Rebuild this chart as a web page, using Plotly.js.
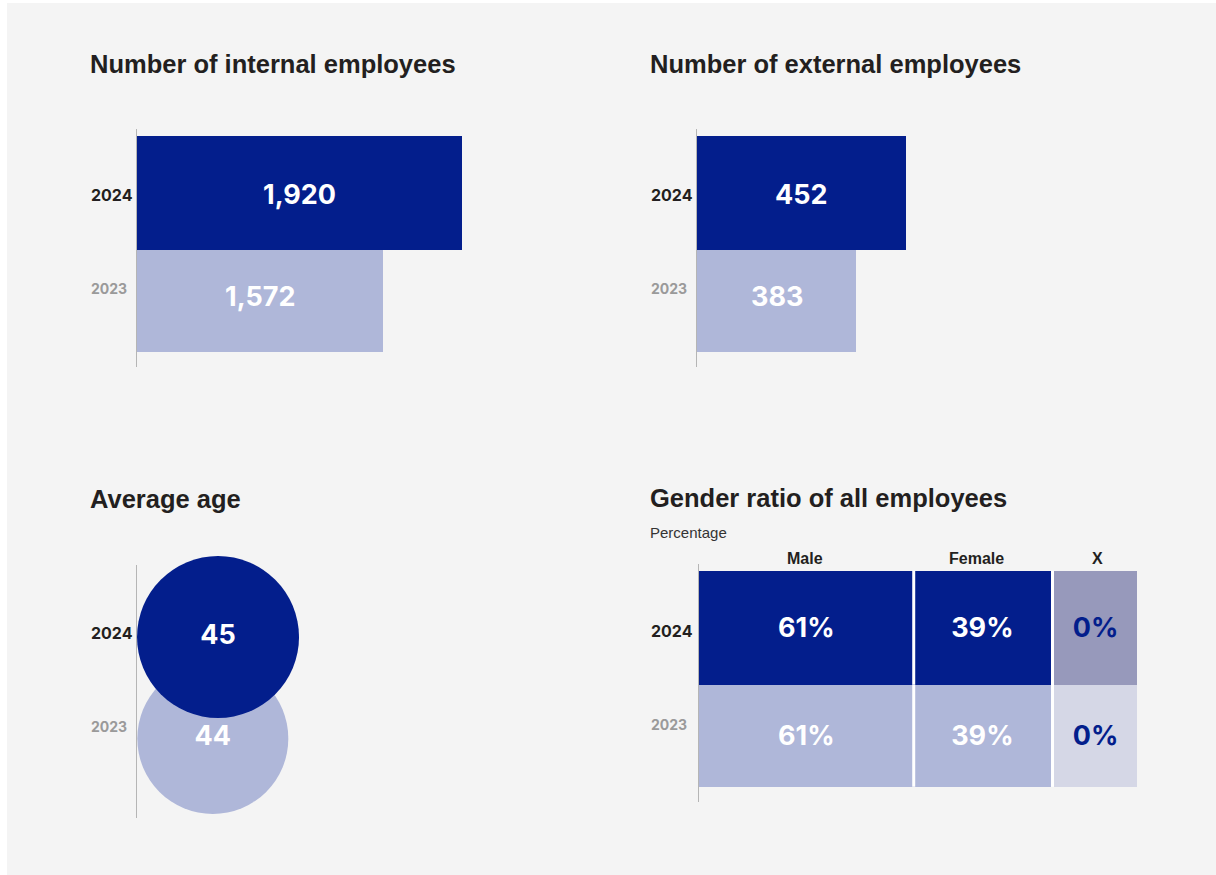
<!DOCTYPE html>
<html>
<head>
<meta charset="utf-8">
<script src="https://cdn.plot.ly/plotly-3.0.1.min.js"></script>
<style>
  html, body { margin: 0; padding: 0; background: #ffffff; }
  #chart { width: 1216px; height: 875px; }
</style>
</head>
<body>
<div id="chart"></div>
<script>
// ---------------- DATA ----------------
const years = ['2023', '2024'];
const internalEmployees = [1572, 1920];
const externalEmployees = [383, 452];
const averageAge = [44, 45];
const genderColumns = ['Male', 'Female', 'X'];
const malePct = [61, 61];
const femalePct = [39, 39];
const xPct = [0, 0];

// ---------------- STYLE ----------------
const W = 1216, H = 875;
const PX = p => p / W;            // pixel -> paper x
const PY = p => 1 - p / H;        // pixel -> paper y
const DARK = '#031e8c';
const LIGHT = '#afb7d9';
const yearColors = [LIGHT, DARK];
const xColColors = ['#d5d7e6', '#9799bb'];
const rowWidths = [0.944, 1.056];      // bar thickness per year (category units)
const circleDiam = [151, 162];         // circle diameters in px
const AXIS_LINE = '#b5b5b5';
const TITLE_FONT = { family: 'Liberation Sans, Arial, sans-serif', size: 25.5, color: '#231f20', weight: 700 };
const NUM_FONT = 'Inter, Liberation Sans, sans-serif';
const valueFont = { family: NUM_FONT, size: 27, color: '#ffffff', weight: 700 };
const valueShift = [5, -1.5];          // vertical nudge of value labels per year (px)

// axis ranges (visual cropping as in the reference)
const r1 = [493.8, 2468.4];
const r2 = [162.3, 786.9];
const r3 = [29.42, 67.88];
const yBarRange = [-0.608, 1.593];

const fmt = v => v.toLocaleString('en-US');
const cellSpan = years.map(() => 1);

const traces = [
  // internal employees
  { type: 'bar', orientation: 'h', x: internalEmployees, y: years, width: rowWidths,
    marker: { color: yearColors, line: { width: 0 } }, xaxis: 'x', yaxis: 'y', hoverinfo: 'skip' },
  // external employees
  { type: 'bar', orientation: 'h', x: externalEmployees, y: years, width: rowWidths,
    marker: { color: yearColors, line: { width: 0 } }, xaxis: 'x2', yaxis: 'y2', hoverinfo: 'skip' },
  // average age
  { type: 'scatter', mode: 'markers+text', x: averageAge, y: years,
    marker: { size: circleDiam, color: yearColors, opacity: 1, line: { width: 0 } },
    text: averageAge.map(String), textposition: 'middle center', textfont: valueFont,
    xaxis: 'x3', yaxis: 'y3', hoverinfo: 'skip', cliponaxis: false },
  // gender ratio
  { type: 'bar', orientation: 'h', name: genderColumns[0], x: malePct, y: years, width: rowWidths,
    marker: { color: yearColors, line: { width: 0 } }, texttemplate: '%{x}%',
    textposition: 'inside', insidetextanchor: 'middle', textangle: 0, constraintext: 'none',
    insidetextfont: valueFont, xaxis: 'x4', yaxis: 'y4', hoverinfo: 'skip' },
  { type: 'bar', orientation: 'h', name: genderColumns[1], x: femalePct, y: years, width: rowWidths,
    marker: { color: yearColors, line: { width: 0 } }, texttemplate: '%{x}%',
    textposition: 'inside', insidetextanchor: 'middle', textangle: 0, constraintext: 'none',
    insidetextfont: valueFont, xaxis: 'x4', yaxis: 'y4', hoverinfo: 'skip' },
  { type: 'bar', orientation: 'h', name: genderColumns[2], x: cellSpan, y: years, width: rowWidths,
    marker: { color: xColColors, line: { width: 0 } }, text: xPct.map(v => v + '%'), texttemplate: '%{text}',
    textposition: 'inside', insidetextanchor: 'middle', textangle: 0, constraintext: 'none',
    insidetextfont: Object.assign({}, valueFont, { color: DARK }), xaxis: 'x5', yaxis: 'y4', hoverinfo: 'skip' }
];

const hiddenX = (domain, range, anchor) => ({
  domain: domain, range: range, visible: true, fixedrange: true, anchor: anchor,
  showgrid: false, zeroline: false, showline: false, showticklabels: false, ticks: ''
});
const catY = (domain, range, anchor) => ({
  domain: domain, range: range, type: 'category', categoryarray: years, categoryorder: 'array',
  showticklabels: false, ticks: '', showgrid: false, zeroline: false, fixedrange: true,
  showline: true, linecolor: AXIS_LINE, linewidth: 1, anchor: anchor
});

const annotations = [];
function addText(text, xpx, ypx, font, xanchor) {
  annotations.push({ text: text, xref: 'paper', yref: 'paper', x: PX(xpx), y: PY(ypx),
    xanchor: xanchor || 'left', yanchor: 'middle', showarrow: false, font: font });
}
// value labels of the employee bars, centred on the visible part of each bar
// (y given as category index, since '2023' would be read as a number)
function addValueLabels(values, range, xref, yref) {
  values.forEach((v, i) => {
    annotations.push({ text: fmt(v), xref: xref, yref: yref, x: (range[0] + v) / 2, y: i,
      yshift: valueShift[i], xanchor: 'center', yanchor: 'middle', showarrow: false, font: valueFont });
  });
}
addValueLabels(internalEmployees, r1, 'x', 'y');
addValueLabels(externalEmployees, r2, 'x2', 'y2');

// titles
addText('Number of internal employees', 88, 64, TITLE_FONT);
addText('Number of external employees', 648, 64, TITLE_FONT);
addText('Average age', 88, 499, TITLE_FONT);
addText('Gender ratio of all employees', 648, 498, TITLE_FONT);
addText('Percentage', 648, 532, { family: 'Liberation Sans, Arial, sans-serif', size: 15, color: '#333333' });
// year labels
const y24Font = { family: NUM_FONT, size: 16, color: '#231f20', weight: 700 };
const y23Font = { family: NUM_FONT, size: 14, color: '#9a9a9a', weight: 700 };
const yearLabelPos = [
  { x: 88.5, y24: 195.3, y23: 288.7 },
  { x: 649, y24: 195.3, y23: 288.7 },
  { x: 88.5, y24: 633, y23: 726 },
  { x: 649, y24: 630.7, y23: 724 }
];
yearLabelPos.forEach(p => {
  addText(years[1], p.x, p.y24, y24Font);
  addText(years[0], p.x, p.y23, y23Font);
});
// column headers
const headerFont = { family: 'Liberation Sans, Arial, sans-serif', size: 16, color: '#231f20', weight: 700 };
[805, 976, 1097].forEach((xp, i) => addText(genderColumns[i], xp, 558, headerFont, 'center'));

const shapes = [
  { type: 'rect', xref: 'paper', yref: 'paper', x0: PX(7), x1: 1, y0: 0, y1: PY(3),
    fillcolor: '#f4f4f4', line: { width: 0 }, layer: 'below' }
];
// white separators between gender cells
years.forEach((yr, i) => {
  shapes.push({ type: 'line', xref: 'x4', yref: 'y4', x0: malePct[i], x1: malePct[i],
    y0: i - rowWidths[i] / 2, y1: i + rowWidths[i] / 2, line: { color: '#ffffff', width: 3 } });
});
shapes.push({ type: 'rect', xref: 'paper', yref: 'y4', x0: PX(1051), x1: PX(1054),
  y0: -rowWidths[0] / 2, y1: 1 + rowWidths[1] / 2, fillcolor: '#ffffff', line: { width: 0 } });

const layout = {
  width: W, height: H, autosize: false,
  margin: { l: 0, r: 0, t: 0, b: 0, pad: 0 },
  paper_bgcolor: '#ffffff', plot_bgcolor: 'rgba(0,0,0,0)',
  showlegend: false, barmode: 'stack', hovermode: false,
  xaxis: hiddenX([PX(137), PX(587)], r1, 'y'),
  yaxis: catY([PY(366.7), PY(129)], yBarRange, 'x'),
  xaxis2: hiddenX([PX(697), PX(1147)], r2, 'y2'),
  yaxis2: catY([PY(366.7), PY(129)], yBarRange, 'x2'),
  xaxis3: hiddenX([PX(137), PX(337)], r3, 'y3'),
  yaxis3: catY([PY(818), PY(565)], [-0.783, 1.709], 'x3'),
  xaxis4: hiddenX([PX(699), PX(1051)], [0, 100], 'y4'),
  xaxis5: hiddenX([PX(1054), PX(1137)], [0, 1], 'y4'),
  yaxis4: catY([PY(801.7), PY(564)], [-0.611, 1.590], 'x4'),
  annotations: annotations,
  shapes: shapes
};

Plotly.newPlot('chart', traces, layout, { displayModeBar: false, staticPlot: true });
</script>
</body>
</html>
